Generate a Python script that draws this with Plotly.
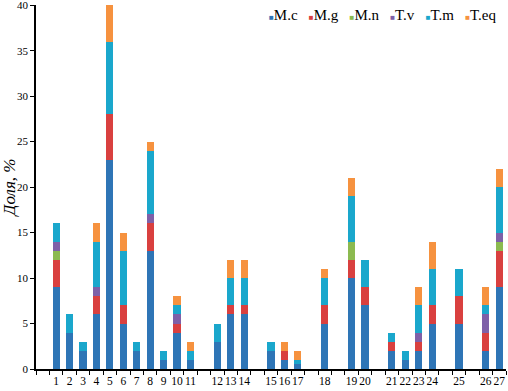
import plotly.graph_objects as go

# ---- data ----
categories = [str(i) for i in range(1, 28)]
# groups of adjacent categories (a blank slot precedes every group)
groups = [
    ["1", "2", "3", "4", "5", "6", "7", "8", "9", "10", "11"],
    ["12", "13", "14"],
    ["15", "16", "17"],
    ["18"],
    ["19", "20"],
    ["21", "22", "23", "24"],
    ["25"],
    ["26", "27"],
]
series_names = ["M.c", "M.g", "M.n", "T.v", "T.m", "T.eq"]
m_c = [9, 4, 2, 6, 23, 5, 2, 13, 1, 4, 1, 3, 6, 6, 2, 1, 0.5, 5, 10, 7, 2, 1, 2, 5, 5, 2, 9]
m_g = [3, 0, 0, 2, 5, 2, 0, 3, 0, 1, 0, 0, 1, 1, 0, 1, 0, 2, 2, 2, 1, 0, 1, 2, 3, 2, 4]
m_n = [1, 0, 0, 0, 0, 0, 0, 0, 0, 0, 0, 0, 0, 0, 0, 0, 0, 0, 2, 0, 0, 0, 0, 0, 0, 0, 1]
t_v = [1, 0, 0, 1, 0, 0, 0, 1, 0, 1, 0, 0, 0, 0, 0, 0, 0, 0, 0, 0, 0, 0, 1, 0, 0, 2, 1]
t_m = [2, 2, 1, 5, 8, 6, 1, 7, 1, 1, 1, 2, 3, 3, 1, 0, 0.5, 3, 5, 3, 1, 1, 3, 4, 3, 1, 5]
t_eq = [0, 0, 0, 2, 4, 2, 0, 1, 0, 1, 1, 0, 2, 2, 0, 1, 1, 1, 2, 0, 0, 0, 2, 3, 0, 2, 2]
y_ticks = [0, 5, 10, 15, 20, 25, 30, 35, 40]

series_values = [m_c, m_g, m_n, t_v, t_m, t_eq]
colors = ["#2e75b6", "#d9403f", "#8cba50", "#7e60a8", "#1aa7cc", "#f6923f"]

FONT = "Liberation Serif"

# slot index of each category (blank slot before each group)
slot_of = {}
slot = 0
for g in groups:
    slot += 1
    for c in g:
        slot_of[c] = slot
        slot += 1
n_slots = slot
xpos = [slot_of[c] for c in categories]

fig = go.Figure()
for name, vals, col in zip(series_names, series_values, colors):
    fig.add_trace(go.Bar(x=xpos, y=vals, name=name,
                         marker=dict(color=col, line=dict(width=0)),
                         showlegend=False))

# compact legend as text
legend_txt = "&nbsp;&nbsp;&nbsp;".join(
    f"<span style='color:{c};font-size:8px'>■</span>{n}"
    for n, c in zip(series_names, colors)
)
fig.add_annotation(text=legend_txt, xref="paper", yref="paper",
                   x=0.982, y=0.973, xanchor="right", yanchor="middle",
                   showarrow=False, font=dict(family=FONT, size=15, color="#000"))

fig.update_layout(
    barmode="stack",
    bargap=0.47,
    width=508, height=391,
    margin=dict(l=36, r=2, t=5, b=22, autoexpand=False),
    plot_bgcolor="white", paper_bgcolor="white",
    font=dict(family=FONT, color="#000"),
    showlegend=False,
)
fig.update_xaxes(
    range=[-0.5, n_slots - 0.5],
    tickmode="array", tickvals=xpos, ticktext=categories, tickangle=0,
    ticks="",
    minor=dict(tickmode="linear", tick0=-0.5, dtick=1, ticks="outside",
               ticklen=4, tickcolor="#000", showgrid=False),
    showline=True, linecolor="#000", linewidth=1.5,
    showgrid=False, zeroline=False, automargin=False,
    tickfont=dict(family=FONT, size=11.5, color="#000"),
)
fig.update_yaxes(
    range=[0, 40.02], tickvals=y_ticks, ticks="outside", ticklen=4, tickcolor="#000",
    showline=True, linecolor="#000", linewidth=1.5,
    showgrid=False, zeroline=False, automargin=False,
    ticklabeloverflow="allow",
    tickfont=dict(family=FONT, size=11, color="#000"),
    title=dict(text="<i>Доля, %</i>", font=dict(family=FONT, size=17, color="#000"),
               standoff=0),
)

fig.write_html("out.html", config={"displayModeBar": False},
               post_script="document.body.style.margin='0';")
